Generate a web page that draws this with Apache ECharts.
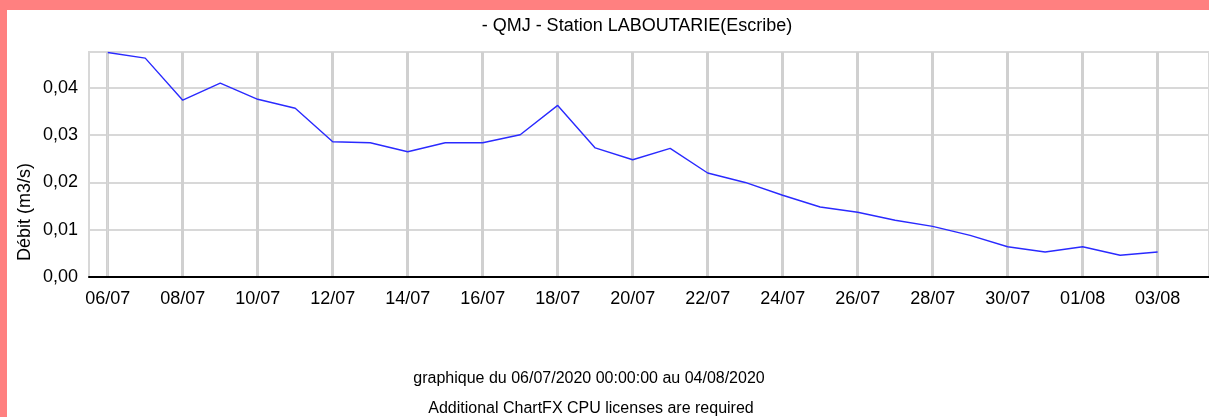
<!DOCTYPE html>
<html>
<head>
<meta charset="utf-8">
<script src="https://cdn.jsdelivr.net/npm/echarts@6/dist/echarts.min.js"></script>
<style>
    html, body { margin: 0; padding: 0; background: #fff; }
    #chart { width: 1209px; height: 417px; }
</style>
</head>
<body>
<div id="chart"></div>
<script>
// dates du 06/07 au 03/08 (un point par jour)
var dates = ['06/07', '07/07', '08/07', '09/07', '10/07', '11/07', '12/07', '13/07', '14/07', '15/07',
    '16/07', '17/07', '18/07', '19/07', '20/07', '21/07', '22/07', '23/07', '24/07', '25/07',
    '26/07', '27/07', '28/07', '29/07', '30/07', '31/07', '01/08', '02/08', '03/08'];
var debit = [0.0475, 0.0463, 0.0374, 0.0410, 0.0376, 0.0357, 0.0286, 0.0284, 0.0265, 0.0284,
    0.0284, 0.0301, 0.0363, 0.0273, 0.0248, 0.0272, 0.0220, 0.0200, 0.0173, 0.0148,
    0.0137, 0.0120, 0.0107, 0.0088, 0.0064, 0.0053, 0.0064, 0.0046, 0.0053];
var xTickLabels = ['06/07', '08/07', '10/07', '12/07', '14/07', '16/07', '18/07', '20/07',
    '22/07', '24/07', '26/07', '28/07', '30/07', '01/08', '03/08'];
var yTicks = [0, 0.01, 0.02, 0.03, 0.04];

var titleText = '- QMJ - Station LABOUTARIE(Escribe)';
var yName = 'Débit (m3/s)';
var footer1 = 'graphique du 06/07/2020 00:00:00 au 04/08/2020';
var footer2 = 'Additional ChartFX CPU licenses are required';

var font = 'Liberation Sans, Arial, sans-serif';
var xTickValues = xTickLabels.map(function (d) { return dates.indexOf(d); });

var myChart = echarts.init(document.getElementById('chart'));
var option = {
    backgroundColor: '#fff',
    animation: false,
    title: {
        text: titleText,
        left: 632,
        top: 12,
        textAlign: 'center',
        textStyle: { fontFamily: font, fontSize: 18, fontWeight: 'normal', color: '#000' }
    },
    grid: {
        left: 89,
        right: 0,
        top: 52,
        bottom: 140,
        show: true,
        borderColor: '#d8d8d8',
        borderWidth: 2
    },
    xAxis: {
        type: 'value',
        min: -0.5,
        max: 29.37,
        axisLine: { show: true, onZero: false, lineStyle: { color: '#000', width: 2 } },
        axisTick: { show: false, customValues: xTickValues },
        axisLabel: {
            customValues: xTickValues,
            margin: 13,
            fontFamily: font,
            fontSize: 18,
            color: '#000',
            formatter: function (value) {
                return dates[Math.round(value)] || '';
            }
        },
        splitLine: { show: true, lineStyle: { color: '#d0d0d0', width: 3 } }
    },
    yAxis: {
        type: 'value',
        min: 0,
        max: 0.0476,
        axisLine: { show: true, lineStyle: { color: '#d8d8d8', width: 1 } },
        axisTick: { show: false, customValues: yTicks },
        axisLabel: {
            customValues: yTicks,
            margin: 11,
            fontFamily: font,
            fontSize: 18,
            color: '#000',
            formatter: function (value) {
                return value.toFixed(2).replace('.', ',');
            }
        },
        splitLine: { show: true, lineStyle: { color: '#d8d8d8', width: 2 } }
    },
    graphic: [
        { type: 'rect', shape: { x: 0, y: 0, width: 1209, height: 10 }, style: { fill: '#ff8080' }, z: 100 },
        { type: 'rect', shape: { x: 0, y: 0, width: 7, height: 417 }, style: { fill: '#ff8080' }, z: 100 },
        {
            type: 'text', x: 25, y: 212, rotation: Math.PI / 2,
            style: { text: yName, font: '18px ' + font, fill: '#000', align: 'center', verticalAlign: 'middle' }
        },
        {
            type: 'text', x: 589, y: 379,
            style: { text: footer1, font: '16px ' + font, fill: '#000', align: 'center', verticalAlign: 'middle' }
        },
        {
            type: 'text', x: 591, y: 409,
            style: { text: footer2, font: '16px ' + font, fill: '#000', align: 'center', verticalAlign: 'middle' }
        }
    ],
    series: [{
        type: 'line',
        data: debit.map(function (v, i) { return [i, v]; }),
        symbol: 'none',
        lineStyle: { color: '#2a2aff', width: 1.4 }
    }]
};
myChart.setOption(option);
</script>
</body>
</html>
